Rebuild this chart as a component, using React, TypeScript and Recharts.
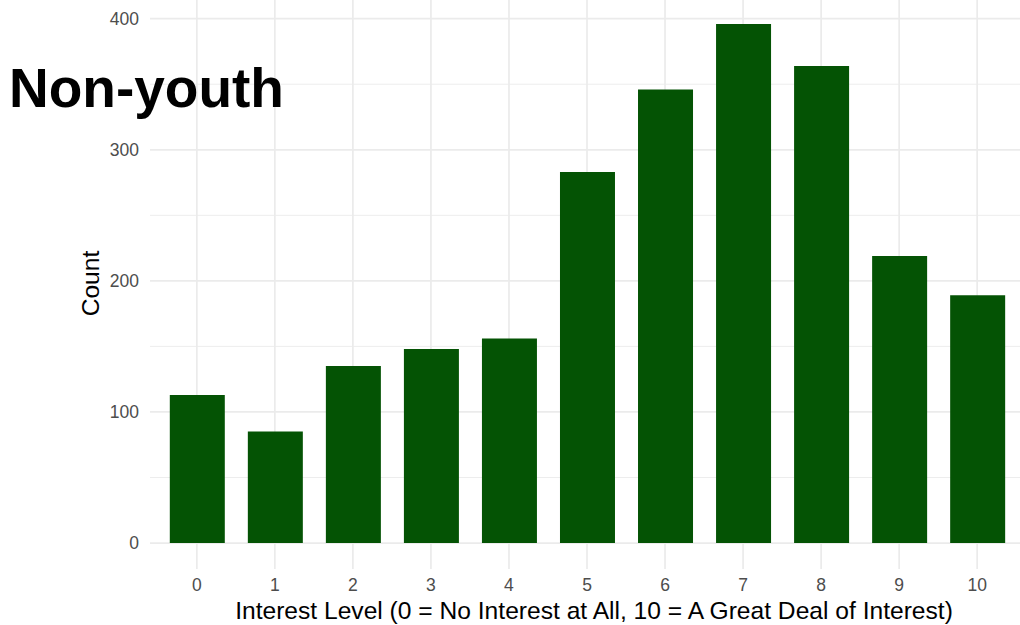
import { BarChart, Bar, XAxis, YAxis, CartesianGrid } from "recharts";

const levels = [0, 1, 2, 3, 4, 5, 6, 7, 8, 9, 10];
const counts = [113, 85, 135, 148, 156, 283, 346, 396, 364, 219, 189];
const yTicks = [0, 100, 200, 300, 400];
const yMinor = [50, 150, 250, 350];

const data = levels.map((level, i) => ({ level, count: counts[i] }));

const FONT = "'Liberation Sans', Arial, sans-serif";
const GRID = "#EBEBEB";
const TICK = "#4D4D4D";

const XTick = ({ x, y, payload }: any) => (
  <text x={x} y={y} dy="0.71em" textAnchor="middle" fontSize={17.5} fontFamily={FONT} fill={TICK}>
    {payload.value}
  </text>
);

const YTick = ({ x, y, payload }: any) => (
  <text x={x} y={y} dy="0.355em" textAnchor="end" fontSize={17.5} fontFamily={FONT} fill={TICK}>
    {payload.value}
  </text>
);

export default function App() {
  return (
    <div
      style={{
        position: "fixed",
        left: 0,
        top: 0,
        width: 1020,
        height: 625,
        overflow: "hidden",
        background: "#fff",
        fontFamily: FONT,
      }}
    >
      <BarChart
        width={1024}
        height={625}
        data={data}
        margin={{ top: -2, right: 0, bottom: 0, left: 0 }}
      >
        {/* minor grid */}
        <CartesianGrid
          stroke={GRID}
          strokeWidth={0.9}
          vertical={false}
          horizontalValues={yMinor}
        />
        {/* major grid */}
        <CartesianGrid
          stroke={GRID}
          strokeWidth={1.7}
          horizontalValues={yTicks}
          verticalValues={levels}
        />
        <XAxis
          dataKey="level"
          type="number"
          domain={[-0.6, 10.6]}
          ticks={levels}
          interval={0}
          axisLine={false}
          tickLine={false}
          tickSize={0}
          tickMargin={10}
          height={56}
          tick={<XTick />}
          label={{
            content: ({ viewBox }: any) => (
              <text
                x={viewBox.x + viewBox.width / 2 + 7}
                y={viewBox.y + 50}
                textAnchor="middle"
                fontSize={24.6}
                fontFamily={FONT}
                fill="#000"
              >
                Interest Level (0 = No Interest at All, 10 = A Great Deal of Interest)
              </text>
            ),
          }}
        />
        <YAxis
          type="number"
          domain={[-19.8, 415.8]}
          ticks={yTicks}
          axisLine={false}
          tickLine={false}
          tickSize={0}
          tickMargin={11}
          width={150}
          allowDataOverflow
          tick={<YTick />}
          label={{
            content: ({ viewBox }: any) => {
              const cx = viewBox.x + 99;
              const cy = viewBox.y + viewBox.height / 2;
              return (
                <text
                  x={cx}
                  y={cy}
                  transform={`rotate(-90 ${cx} ${cy})`}
                  textAnchor="middle"
                  fontSize={24.6}
                  fontFamily={FONT}
                  fill="#000"
                >
                  Count
                </text>
              );
            },
          }}
        />
        <Bar dataKey="count" fill="#045304" barSize={55} isAnimationActive={false} />
      </BarChart>
      <div
        style={{
          position: "absolute",
          left: 9,
          top: 61,
          fontSize: 55,
          lineHeight: "55px",
          fontWeight: 700,
          color: "#000",
          fontFamily: FONT,
        }}
      >
        Non-youth
      </div>
    </div>
  );
}
